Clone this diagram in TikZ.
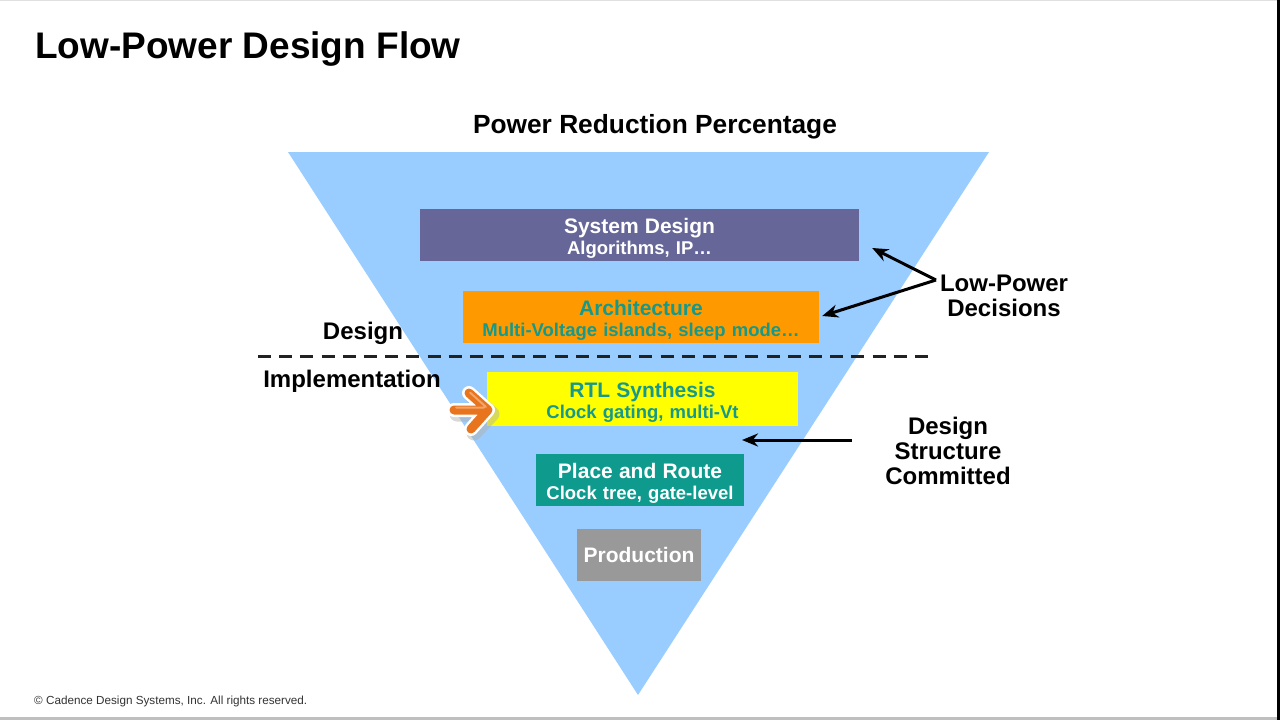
\documentclass[tikz,border=0pt]{standalone}
\usepackage{fontspec}
\setmainfont{Liberation Sans}
\usetikzlibrary{calc,arrows.meta}
\definecolor{tri}{HTML}{99CCFF}
\definecolor{sysc}{HTML}{666699}
\definecolor{archc}{HTML}{FF9900}
\definecolor{rtlc}{HTML}{FFFF00}
\definecolor{parc}{HTML}{0F9A8E}
\definecolor{prodc}{HTML}{999999}
\definecolor{tealtxt}{HTML}{16998A}
\definecolor{dashc}{HTML}{222222}
\definecolor{ptr}{HTML}{E8751E}
\newcommand{\stagetext}[2]{\rule{0pt}{21.5pt}{\fontsize{21}{20}\selectfont #1}\\#2}
\begin{document}
\begin{tikzpicture}[x=1pt,y=-1pt,
  fs/.style={font=\fontsize{#1}{#1}\selectfont\bfseries},
  stage/.style={inner sep=0pt,align=center,text width=#1,font=\fontsize{18.5}{20.5}\selectfont\bfseries},
  lbl/.style={align=center,inner sep=0pt,font=\fontsize{24}{25}\selectfont\bfseries},
  conn/.style={line width=3pt,-{Stealth[length=16pt,width=13pt]}}]
\useasboundingbox (0,0) rectangle (1280,720);
\fill[white] (0,0) rectangle (1280,720);
\fill[black] (1277,0) rectangle (1280,720);
\fill[black!25] (0,717) rectangle (1277,720);
\draw[black!12] (0,0.5) -- (1277,0.5);
% title
\node[anchor=base west,inner sep=0pt,fs=37] (title) at (35,58) {Low-Power Design Flow};
\node[anchor=base,inner sep=0pt,fs=26.3] (prp) at (655,133) {Power Reduction Percentage};
% triangle
\fill[tri] (288,152) -- (989,152) -- (638,695) -- cycle;
% stages
\node[stage=439pt,fill=sysc,minimum height=52pt,text=white] (sys) at (639.5,235)
  {\stagetext{System Design}{Algorithms, IP…}};
\node[stage=356pt,fill=archc,minimum height=52pt,text=tealtxt] (arch) at (641,317)
  {\stagetext{Architecture}{Multi-Voltage islands, sleep mode…}};
\node[stage=311pt,fill=rtlc,minimum height=54pt,text=tealtxt] (rtl) at (642.5,399)
  {\stagetext{RTL Synthesis}{Clock gating, multi-Vt}};
\node[stage=208pt,fill=parc,minimum height=52pt,text=white] (par) at (640,480)
  {\stagetext{Place and Route}{Clock tree, gate-level}};
\node[stage=124pt,fill=prodc,minimum height=52pt,text=white] (prod) at (639,554.5)
  {{\fontsize{21}{20}\selectfont Production}};
% dashed separator
\coordinate (dl) at (258,356);
\coordinate (dr) at (928,356);
\draw[dashc,line width=3pt,dash pattern=on 13pt off 8.19pt] (dl) -- (dr);
\node[lbl] (design) at (363,333) {Design};
\node[lbl] (impl) at (352,381) {Implementation};
% orange pointer arrow
\begin{scope}[line cap=round,line join=round]
\draw[black!30,line width=15pt,opacity=0.5] (457,414) -- (490,414) (472,396) -- (492,414) -- (474,433);
\draw[white,line width=14pt] (454,410) -- (486,410) (469,393) -- (488,410) -- (471,429);
\draw[ptr,line width=9pt] (454,410) -- (486,410) (469,393) -- (488,410) -- (471,429);
\draw[white,opacity=0.35,line width=2pt] (456,407.5) -- (484,407.5) (470,392.5) -- (486,407);
\end{scope}
% low-power decisions
\node[lbl] (lpd) at (1004,296) {Low-Power\\Decisions};
\coordinate (lpj) at (936,280);
\draw[conn] (lpj) -- ($(sys.east)+(13,13)$);
\draw[conn] (lpj) -- ($(arch.east)+(3,-1)$);
% design structure committed
\node[lbl] (dsc) at (948,451) {Design\\Structure\\Committed};
\coordinate (dsa) at (852,440);
\coordinate (dsb) at (742,440);
\draw[conn] (dsa) -- (dsb);
% copyright
\node[anchor=base west,inner sep=0pt,font=\fontsize{11.7}{14}\selectfont,text=black!80] (copy) at (34,704) {© Cadence Design Systems, Inc. All rights reserved.};
\end{tikzpicture}
\end{document}
